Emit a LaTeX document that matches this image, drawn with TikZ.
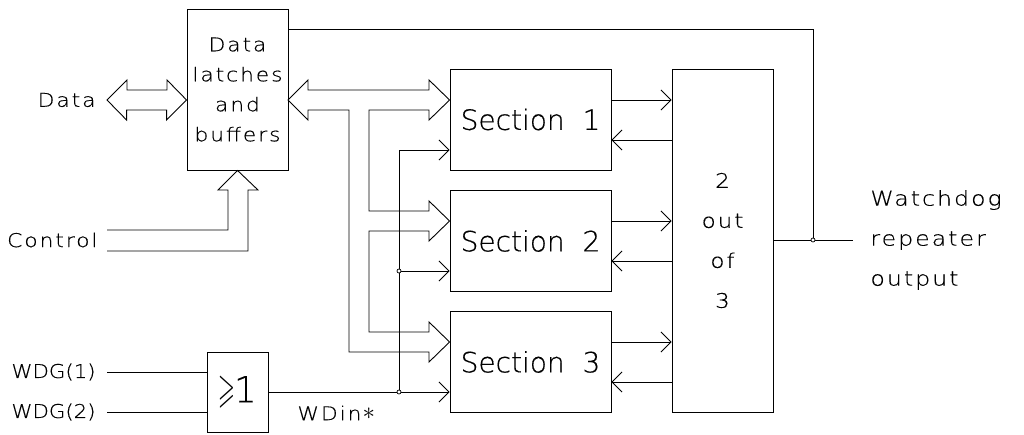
\documentclass[tikz,border=0pt]{standalone}
\usepackage{amssymb}
\usepackage{fontspec}
\setmainfont{DejaVu Sans ExtraLight}[FakeBold=0.4]
\newfontfamily\widefont{DejaVu Sans ExtraLight}[FakeStretch=1.15, LetterSpace=10, FakeBold=0.4]
\newfontfamily\midfont{DejaVu Sans ExtraLight}[FakeStretch=1.12, FakeBold=0.4]
\usetikzlibrary{arrows.meta,positioning}

\begin{document}
\begin{tikzpicture}[x=1pt, y=-1pt, line width=0.9pt,
    box/.style={draw, minimum width=101pt, minimum height=101pt, inner sep=0pt, align=center},
    sect/.style={box, minimum width=161pt, font=\fontsize{28}{30}\selectfont},
    lbl/.style={font=\widefont\fontsize{19}{30}\selectfont, align=center},
    sig/.style={-{Straight Barb[length=10pt,width=20pt]}},
    dot/.style={circle, draw, fill=white, inner sep=0pt, minimum size=4pt, line width=0.7pt}
]
\useasboundingbox (0,0) rectangle (1024,435);

% blocks
\node[box, lbl, minimum height=161pt] (latch) at (237.5,89.5) {Data\\latches\\and\\buffers};
\node[sect] (sec1) at (530.5,119.5) {Section\ \ 1};
\node[sect] (sec2) at (530.5,241)   {Section\ \ 2};
\node[sect] (sec3) at (530.5,362)   {Section\ \ 3};
\node[box, minimum height=343pt, font=\widefont\fontsize{20}{40}\selectfont] (vote) at (722.5,240.5) {2\\out\\of\\3};
\node[box, minimum width=61pt, minimum height=80pt, font=\fontsize{36}{36}\selectfont] (orgate) at (237.5,392)
    {\scalebox{0.6}[1.15]{$\geqslant$}\kern-1pt 1};

% labels
\node[lbl, anchor=east, inner xsep=11pt] (datalbl) at (107,100) {Data};
\node[lbl, anchor=east, inner xsep=9pt]  (ctrllbl) at (107,240) {Control};
\node[lbl, anchor=east, inner xsep=11pt, font=\midfont\fontsize{19}{30}\selectfont] (wdg1) at (107,372) {WDG(1)};
\node[lbl, anchor=east, inner xsep=11pt, font=\midfont\fontsize{19}{30}\selectfont] (wdg2) at (107,412) {WDG(2)};
\node[lbl, anchor=west, inner sep=0pt]   (wdin)    at (297,413)
    {WDin\kern1pt\raisebox{1pt}{\fontsize{30}{30}\selectfont$\ast$}};
\coordinate (outend) at (853,240);
\node[lbl, anchor=west, inner xsep=17pt, align=left, font=\widefont\fontsize{20.5}{40}\selectfont] (wdout) at (outend)
    {Watchdog\\repeater\\output};

% buses
\draw[line join=miter] (datalbl.east) -- ++(20,-20) -- ++(0,10) -- ++(40,0) -- ++(0,-10) -- (latch.west |- datalbl.east)
    -- ++(-20,20) -- ++(0,-10) -- ++(-40,0) -- ++(0,10) -- cycle;
\draw[line join=miter] (288,100) -- (308,80) -- (308,90) -- (429,90) -- (429,80) -- (sec1.west |- 0,100)
    -- (429,120) -- (429,110) -- (369,110) -- (369,211) -- (429,211) -- (429,201) -- (sec2.west |- 0,221)
    -- (429,241) -- (429,231) -- (369,231) -- (369,332) -- (429,332) -- (429,322) -- (sec3.west |- 0,342)
    -- (429,362) -- (429,352) -- (349,352) -- (349,110) -- (308,110) -- (308,120) -- cycle;
\draw[line join=miter] (ctrllbl.east |- 0,230) -- (228,230) -- (228,190) -- (218,190) -- (latch.south)
    -- (258,190) -- (248,190) -- (248,251) -- (ctrllbl.east |- 0,251);

% section <-> voter
\foreach \s/\y in {1/100, 2/221, 3/342} {
    \draw[sig] (sec\s.east |- 0,\y) -- (vote.west |- 0,\y);
    \draw[sig] (vote.west |- 0,\y+40) -- (sec\s.east |- 0,\y+40);
}

% watchdog input
\draw (wdg1.east) -- (orgate.west |- wdg1.east);
\draw (wdg2.east) -- (orgate.west |- wdg2.east);
\draw[sig] (orgate.east) -- (orgate.east -| sec3.west);
\draw[sig] (399,392) -- (399,150) -- (sec1.west |- 0,150);
\draw[sig] (399,271) -- (sec2.west |- 0,271);

% output and feedback
\draw (vote.east |- outend) -- (outend);
\draw (latch.east |- 0,29) -- (813,29) -- (813,240);

\node[dot] (j1) at (399,392) {};
\node[dot] (j2) at (399,271) {};
\node[dot] (j3) at (813,240) {};
\end{tikzpicture}
\end{document}
